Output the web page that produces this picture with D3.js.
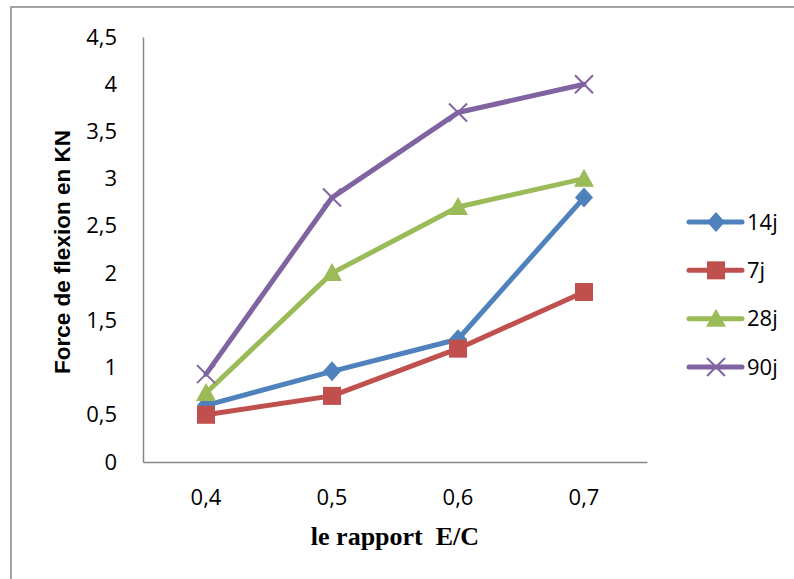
<!DOCTYPE html>
<html><head><meta charset="utf-8">
<script src="https://cdn.jsdelivr.net/npm/d3@7"></script>
<style>body{margin:0;background:#fff}svg{display:block}</style>
</head><body>
<svg id="c" width="794" height="579"></svg>
<script>
const categories = ["0,4","0,5","0,6","0,7"];
const seriesNames = ["14j","7j","28j","90j"];
const s14j = [0.6, 0.96, 1.3, 2.8];
const s7j  = [0.5, 0.7, 1.2, 1.8];
const s28j = [0.73, 2.0, 2.7, 3.0];
const s90j = [0.93, 2.8, 3.7, 4.0];
const yTicks = [0,0.5,1,1.5,2,2.5,3,3.5,4,4.5];
const colors = ["#4F81BD","#C0504D","#9BBB59","#8064A2"];
const markers = ["diamond","square","triangle","x"];
const series = [s14j, s7j, s28j, s90j];

const svg = d3.select("#c");
svg.append("rect").attr("x",11).attr("y",7).attr("width",900).attr("height",700)
  .attr("fill","#fff").attr("stroke","#868686").attr("stroke-width",1.5);

const x = d3.scaleBand().domain(categories).range([143,647]).padding(0);
const y = d3.scaleLinear().domain([0,4.5]).range([462,37]);
const cx = c => x(c) + x.bandwidth()/2;

const tickFont = "'Open Sans','Noto Sans',sans-serif";
const tickSize = 22;
const yAxis = svg.append("g").attr("transform","translate(143,0)")
  .call(d3.axisLeft(y).tickValues(yTicks).tickSize(0).tickPadding(26)
    .tickFormat(d => String(d).replace(".",",")));
const xAxis = svg.append("g").attr("transform","translate(0,462)")
  .call(d3.axisBottom(x).tickSize(0).tickPadding(27));
[yAxis,xAxis].forEach(g=>{
  g.attr("font-size",tickSize).attr("font-family",tickFont);
  g.select(".domain").attr("stroke","#868686").attr("stroke-width",1.5);
  g.selectAll("text").attr("fill","#000");
});

function marker(g, type, px, py, col){
  if(type==="diamond"){
    g.append("path").attr("d",`M${px},${py-10}L${px+9},${py}L${px},${py+10}L${px-9},${py}Z`).attr("fill",col);
  } else if(type==="square"){
    g.append("rect").attr("x",px-9).attr("y",py-9).attr("width",18).attr("height",18).attr("fill",col);
  } else if(type==="triangle"){
    g.append("path").attr("d",`M${px},${py-10}L${px+10},${py+8}L${px-10},${py+8}Z`).attr("fill",col);
  } else {
    g.append("path").attr("d",`M${px-9},${py-9}L${px+9},${py+9}M${px+9},${py-9}L${px-9},${py+9}`)
      .attr("stroke",col).attr("stroke-width",2).attr("fill","none");
  }
}

const line = d3.line().x((d,i)=>cx(categories[i])).y(d=>y(d));
series.forEach((vals,k)=>{
  const g = svg.append("g");
  g.append("path").datum(vals).attr("d",line).attr("fill","none")
    .attr("stroke",colors[k]).attr("stroke-width",5).attr("stroke-linejoin","round").attr("stroke-linecap","round");
  vals.forEach((v,i)=>marker(g, markers[k], cx(categories[i]), y(v), colors[k]));
});

// legend
const legY = d3.scalePoint().domain(seriesNames).range([222,367]);
seriesNames.forEach((n,k)=>{
  const g = svg.append("g");
  const ly = legY(n);
  g.append("line").attr("x1",689).attr("x2",742).attr("y1",ly).attr("y2",ly)
    .attr("stroke",colors[k]).attr("stroke-width",5).attr("stroke-linecap","round");
  marker(g, markers[k], 716, ly, colors[k]);
  g.append("text").attr("x",747).attr("y",ly).attr("dy","0.35em")
    .attr("font-family",tickFont).attr("font-size",tickSize).text(n);
});

// titles
svg.append("text").attr("transform","translate(70,252) rotate(-90)").attr("text-anchor","middle")
  .attr("font-family","'Liberation Sans',Arial,sans-serif").attr("font-weight","bold").attr("font-size",22.5)
  .text("Force de flexion en KN");
svg.append("text").attr("x",395).attr("y",545).attr("text-anchor","middle")
  .attr("font-family","'Liberation Serif','Times New Roman',serif").attr("font-weight","bold").attr("font-size",26)
  .style("white-space","pre")
  .text("le rapport  E/C");
</script>
</body></html>
